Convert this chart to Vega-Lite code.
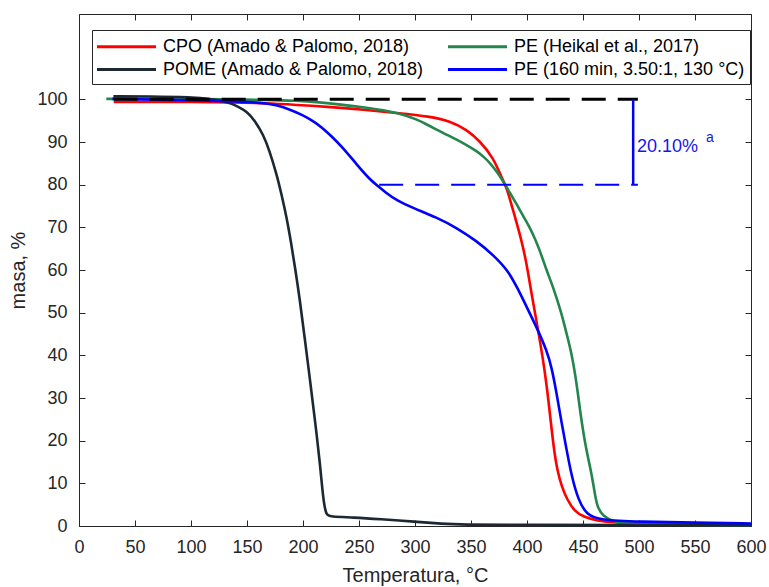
{
  "$schema": "https://vega.github.io/schema/vega-lite/v6.json",
  "width": 672,
  "height": 512,
  "autosize": "none",
  "padding": {"left": 79, "top": 14, "right": 18, "bottom": 61},
  "background": "white",
  "config": {
    "view": {"stroke": null},
    "font": "Liberation Sans",
    "axis": {
      "labelFont": "Liberation Sans",
      "titleFont": "Liberation Sans",
      "labelFontSize": 18,
      "titleFontSize": 20,
      "titleFontWeight": "normal",
      "labelColor": "#262626",
      "titleColor": "#262626",
      "domainColor": "#262626",
      "tickColor": "#262626",
      "tickSize": -6,
      "grid": false,
      "domainWidth": 1,
      "tickWidth": 1,
      "labelFlush": false,
      "labelOverlap": false
    }
  },
  "layer": [
    {
      "data": {
        "values": [
          {"series": "CPO (Amado & Palomo, 2018)", "T": 31, "m": 99.4},
          {"series": "CPO (Amado & Palomo, 2018)", "T": 60, "m": 99.4},
          {"series": "CPO (Amado & Palomo, 2018)", "T": 100, "m": 99.4},
          {"series": "CPO (Amado & Palomo, 2018)", "T": 134.8, "m": 99.3},
          {"series": "CPO (Amado & Palomo, 2018)", "T": 165, "m": 99.1},
          {"series": "CPO (Amado & Palomo, 2018)", "T": 194.3, "m": 98.7},
          {"series": "CPO (Amado & Palomo, 2018)", "T": 225, "m": 98.2},
          {"series": "CPO (Amado & Palomo, 2018)", "T": 253.8, "m": 97.6},
          {"series": "CPO (Amado & Palomo, 2018)", "T": 283.6, "m": 96.8},
          {"series": "CPO (Amado & Palomo, 2018)", "T": 313.4, "m": 96.0},
          {"series": "CPO (Amado & Palomo, 2018)", "T": 331.2, "m": 94.9},
          {"series": "CPO (Amado & Palomo, 2018)", "T": 346.2, "m": 92.9},
          {"series": "CPO (Amado & Palomo, 2018)", "T": 358, "m": 90.2},
          {"series": "CPO (Amado & Palomo, 2018)", "T": 370, "m": 86.3},
          {"series": "CPO (Amado & Palomo, 2018)", "T": 377.4, "m": 81.6},
          {"series": "CPO (Amado & Palomo, 2018)", "T": 381.9, "m": 79.3},
          {"series": "CPO (Amado & Palomo, 2018)", "T": 387.8, "m": 73.8},
          {"series": "CPO (Amado & Palomo, 2018)", "T": 395.3, "m": 66.8},
          {"series": "CPO (Amado & Palomo, 2018)", "T": 399.7, "m": 61.4},
          {"series": "CPO (Amado & Palomo, 2018)", "T": 404, "m": 54.5},
          {"series": "CPO (Amado & Palomo, 2018)", "T": 410, "m": 45.8},
          {"series": "CPO (Amado & Palomo, 2018)", "T": 414, "m": 39.5},
          {"series": "CPO (Amado & Palomo, 2018)", "T": 417.6, "m": 33.0},
          {"series": "CPO (Amado & Palomo, 2018)", "T": 421, "m": 25.0},
          {"series": "CPO (Amado & Palomo, 2018)", "T": 424.1, "m": 17.8},
          {"series": "CPO (Amado & Palomo, 2018)", "T": 427, "m": 13.1},
          {"series": "CPO (Amado & Palomo, 2018)", "T": 431, "m": 9.2},
          {"series": "CPO (Amado & Palomo, 2018)", "T": 436, "m": 6.1},
          {"series": "CPO (Amado & Palomo, 2018)", "T": 442.9, "m": 3.3},
          {"series": "CPO (Amado & Palomo, 2018)", "T": 450.3, "m": 2.2},
          {"series": "CPO (Amado & Palomo, 2018)", "T": 462, "m": 1.2},
          {"series": "CPO (Amado & Palomo, 2018)", "T": 480, "m": 0.8},
          {"series": "CPO (Amado & Palomo, 2018)", "T": 500, "m": 0.7},
          {"series": "CPO (Amado & Palomo, 2018)", "T": 550, "m": 0.5},
          {"series": "CPO (Amado & Palomo, 2018)", "T": 600, "m": 0.4},

          {"series": "PE (Heikal et al., 2017)", "T": 24.4, "m": 100.1},
          {"series": "PE (Heikal et al., 2017)", "T": 60, "m": 100.1},
          {"series": "PE (Heikal et al., 2017)", "T": 100, "m": 100.1},
          {"series": "PE (Heikal et al., 2017)", "T": 134.8, "m": 100.0},
          {"series": "PE (Heikal et al., 2017)", "T": 165, "m": 99.9},
          {"series": "PE (Heikal et al., 2017)", "T": 194.3, "m": 99.7},
          {"series": "PE (Heikal et al., 2017)", "T": 215, "m": 99.3},
          {"series": "PE (Heikal et al., 2017)", "T": 233, "m": 98.8},
          {"series": "PE (Heikal et al., 2017)", "T": 255, "m": 98.1},
          {"series": "PE (Heikal et al., 2017)", "T": 277.7, "m": 97.2},
          {"series": "PE (Heikal et al., 2017)", "T": 290, "m": 96.4},
          {"series": "PE (Heikal et al., 2017)", "T": 301.5, "m": 95.3},
          {"series": "PE (Heikal et al., 2017)", "T": 310, "m": 94.2},
          {"series": "PE (Heikal et al., 2017)", "T": 319.4, "m": 92.9},
          {"series": "PE (Heikal et al., 2017)", "T": 328, "m": 91.7},
          {"series": "PE (Heikal et al., 2017)", "T": 337.2, "m": 90.6},
          {"series": "PE (Heikal et al., 2017)", "T": 346, "m": 89.3},
          {"series": "PE (Heikal et al., 2017)", "T": 355, "m": 87.9},
          {"series": "PE (Heikal et al., 2017)", "T": 361, "m": 86.6},
          {"series": "PE (Heikal et al., 2017)", "T": 367, "m": 85.1},
          {"series": "PE (Heikal et al., 2017)", "T": 373, "m": 83.1},
          {"series": "PE (Heikal et al., 2017)", "T": 378.8, "m": 80.8},
          {"series": "PE (Heikal et al., 2017)", "T": 384.5, "m": 78.2},
          {"series": "PE (Heikal et al., 2017)", "T": 390.8, "m": 75.4},
          {"series": "PE (Heikal et al., 2017)", "T": 396.5, "m": 72.7},
          {"series": "PE (Heikal et al., 2017)", "T": 402.7, "m": 69.9},
          {"series": "PE (Heikal et al., 2017)", "T": 407, "m": 67.4},
          {"series": "PE (Heikal et al., 2017)", "T": 411.6, "m": 64.5},
          {"series": "PE (Heikal et al., 2017)", "T": 417.6, "m": 59.8},
          {"series": "PE (Heikal et al., 2017)", "T": 423.5, "m": 55.9},
          {"series": "PE (Heikal et al., 2017)", "T": 431, "m": 49.7},
          {"series": "PE (Heikal et al., 2017)", "T": 435.4, "m": 45.0},
          {"series": "PE (Heikal et al., 2017)", "T": 440, "m": 40.3},
          {"series": "PE (Heikal et al., 2017)", "T": 444.4, "m": 33.3},
          {"series": "PE (Heikal et al., 2017)", "T": 447.3, "m": 27.1},
          {"series": "PE (Heikal et al., 2017)", "T": 451.8, "m": 19.3},
          {"series": "PE (Heikal et al., 2017)", "T": 456.3, "m": 13.9},
          {"series": "PE (Heikal et al., 2017)", "T": 459.2, "m": 10.0},
          {"series": "PE (Heikal et al., 2017)", "T": 462.2, "m": 4.5},
          {"series": "PE (Heikal et al., 2017)", "T": 468.2, "m": 2.2},
          {"series": "PE (Heikal et al., 2017)", "T": 477, "m": 1.0},
          {"series": "PE (Heikal et al., 2017)", "T": 492, "m": 0.5},
          {"series": "PE (Heikal et al., 2017)", "T": 520, "m": 0.3},
          {"series": "PE (Heikal et al., 2017)", "T": 600, "m": 0.2},

          {"series": "POME (Amado & Palomo, 2018)", "T": 30.7, "m": 100.7},
          {"series": "POME (Amado & Palomo, 2018)", "T": 63, "m": 100.7},
          {"series": "POME (Amado & Palomo, 2018)", "T": 100, "m": 100.5},
          {"series": "POME (Amado & Palomo, 2018)", "T": 120, "m": 100.0},
          {"series": "POME (Amado & Palomo, 2018)", "T": 128, "m": 99.6},
          {"series": "POME (Amado & Palomo, 2018)", "T": 135, "m": 99.1},
          {"series": "POME (Amado & Palomo, 2018)", "T": 142, "m": 98.3},
          {"series": "POME (Amado & Palomo, 2018)", "T": 150, "m": 97.1},
          {"series": "POME (Amado & Palomo, 2018)", "T": 157, "m": 95.0},
          {"series": "POME (Amado & Palomo, 2018)", "T": 164.6, "m": 91.7},
          {"series": "POME (Amado & Palomo, 2018)", "T": 170, "m": 88.0},
          {"series": "POME (Amado & Palomo, 2018)", "T": 176.5, "m": 82.4},
          {"series": "POME (Amado & Palomo, 2018)", "T": 181, "m": 77.5},
          {"series": "POME (Amado & Palomo, 2018)", "T": 185.4, "m": 72.3},
          {"series": "POME (Amado & Palomo, 2018)", "T": 189.3, "m": 66.5},
          {"series": "POME (Amado & Palomo, 2018)", "T": 192.9, "m": 60.6},
          {"series": "POME (Amado & Palomo, 2018)", "T": 197.3, "m": 52.8},
          {"series": "POME (Amado & Palomo, 2018)", "T": 201.8, "m": 43.5},
          {"series": "POME (Amado & Palomo, 2018)", "T": 206.3, "m": 34.1},
          {"series": "POME (Amado & Palomo, 2018)", "T": 210.7, "m": 24.8},
          {"series": "POME (Amado & Palomo, 2018)", "T": 215.2, "m": 14.6},
          {"series": "POME (Amado & Palomo, 2018)", "T": 218.1, "m": 6.1},
          {"series": "POME (Amado & Palomo, 2018)", "T": 220.6, "m": 2.6},
          {"series": "POME (Amado & Palomo, 2018)", "T": 224, "m": 2.2},
          {"series": "POME (Amado & Palomo, 2018)", "T": 245, "m": 2.0},
          {"series": "POME (Amado & Palomo, 2018)", "T": 268.8, "m": 1.6},
          {"series": "POME (Amado & Palomo, 2018)", "T": 300, "m": 1.0},
          {"series": "POME (Amado & Palomo, 2018)", "T": 325, "m": 0.5},
          {"series": "POME (Amado & Palomo, 2018)", "T": 340, "m": 0.3},
          {"series": "POME (Amado & Palomo, 2018)", "T": 400, "m": 0.3},
          {"series": "POME (Amado & Palomo, 2018)", "T": 500, "m": 0.25},
          {"series": "POME (Amado & Palomo, 2018)", "T": 600, "m": 0.2},

          {"series": "PE (160 min, 3.50:1, 130 °C)", "T": 29.8, "m": 100.1},
          {"series": "PE (160 min, 3.50:1, 130 °C)", "T": 80, "m": 99.9},
          {"series": "PE (160 min, 3.50:1, 130 °C)", "T": 134.8, "m": 99.6},
          {"series": "PE (160 min, 3.50:1, 130 °C)", "T": 164.6, "m": 99.2},
          {"series": "PE (160 min, 3.50:1, 130 °C)", "T": 177, "m": 98.6},
          {"series": "PE (160 min, 3.50:1, 130 °C)", "T": 188.4, "m": 97.6},
          {"series": "PE (160 min, 3.50:1, 130 °C)", "T": 199, "m": 96.4},
          {"series": "PE (160 min, 3.50:1, 130 °C)", "T": 209.2, "m": 94.9},
          {"series": "PE (160 min, 3.50:1, 130 °C)", "T": 217, "m": 93.4},
          {"series": "PE (160 min, 3.50:1, 130 °C)", "T": 224.1, "m": 91.7},
          {"series": "PE (160 min, 3.50:1, 130 °C)", "T": 236, "m": 88.6},
          {"series": "PE (160 min, 3.50:1, 130 °C)", "T": 248, "m": 84.7},
          {"series": "PE (160 min, 3.50:1, 130 °C)", "T": 259.8, "m": 81.2},
          {"series": "PE (160 min, 3.50:1, 130 °C)", "T": 265.8, "m": 79.9},
          {"series": "PE (160 min, 3.50:1, 130 °C)", "T": 274, "m": 78.1},
          {"series": "PE (160 min, 3.50:1, 130 °C)", "T": 283.6, "m": 76.3},
          {"series": "PE (160 min, 3.50:1, 130 °C)", "T": 298.5, "m": 74.5},
          {"series": "PE (160 min, 3.50:1, 130 °C)", "T": 319.4, "m": 72.3},
          {"series": "PE (160 min, 3.50:1, 130 °C)", "T": 337.2, "m": 69.9},
          {"series": "PE (160 min, 3.50:1, 130 °C)", "T": 355, "m": 66.8},
          {"series": "PE (160 min, 3.50:1, 130 °C)", "T": 370, "m": 63.5},
          {"series": "PE (160 min, 3.50:1, 130 °C)", "T": 383.3, "m": 59.8},
          {"series": "PE (160 min, 3.50:1, 130 °C)", "T": 392, "m": 55.5},
          {"series": "PE (160 min, 3.50:1, 130 °C)", "T": 400, "m": 51.2},
          {"series": "PE (160 min, 3.50:1, 130 °C)", "T": 410, "m": 45.8},
          {"series": "PE (160 min, 3.50:1, 130 °C)", "T": 417.6, "m": 41.1},
          {"series": "PE (160 min, 3.50:1, 130 °C)", "T": 422, "m": 37.2},
          {"series": "PE (160 min, 3.50:1, 130 °C)", "T": 426.5, "m": 31.0},
          {"series": "PE (160 min, 3.50:1, 130 °C)", "T": 431, "m": 24.0},
          {"series": "PE (160 min, 3.50:1, 130 °C)", "T": 435.4, "m": 17.8},
          {"series": "PE (160 min, 3.50:1, 130 °C)", "T": 440, "m": 11.5},
          {"series": "PE (160 min, 3.50:1, 130 °C)", "T": 445.8, "m": 6.1},
          {"series": "PE (160 min, 3.50:1, 130 °C)", "T": 453.3, "m": 2.6},
          {"series": "PE (160 min, 3.50:1, 130 °C)", "T": 465, "m": 1.4},
          {"series": "PE (160 min, 3.50:1, 130 °C)", "T": 500, "m": 1.0},
          {"series": "PE (160 min, 3.50:1, 130 °C)", "T": 550, "m": 0.8},
          {"series": "PE (160 min, 3.50:1, 130 °C)", "T": 600, "m": 0.6}
        ]
      },
      "mark": {"type": "line", "strokeWidth": 2.6, "interpolate": "basis"},
      "encoding": {
        "x": {
          "field": "T", "type": "quantitative",
          "scale": {"domain": [0, 600], "nice": false, "zero": false},
          "axis": {"orient": "bottom", "title": "Temperatura, °C", "values": [0, 50, 100, 150, 200, 250, 300, 350, 400, 450, 500, 550, 600], "labelPadding": 18, "titlePadding": 9}
        },
        "y": {
          "field": "m", "type": "quantitative",
          "scale": {"domain": [0, 120], "nice": false, "zero": false},
          "axis": {"orient": "left", "title": "masa, %", "values": [0, 10, 20, 30, 40, 50, 60, 70, 80, 90, 100], "labelPadding": 18, "titlePadding": 8}
        },
        "color": {
          "field": "series", "type": "nominal",
          "sort": null,
          "scale": {
            "domain": ["CPO (Amado & Palomo, 2018)", "POME (Amado & Palomo, 2018)", "PE (Heikal et al., 2017)", "PE (160 min, 3.50:1, 130 °C)"],
            "range": ["#ff0000", "#1c2833", "#23864c", "#0000ff"]
          },
          "legend": {
            "orient": "none", "legendX": 13, "legendY": 16,
            "columns": 2, "title": null,
            "symbolType": "M-3,0H3", "symbolSize": 387, "symbolStrokeWidth": 3,
            "symbolOffset": 18, "labelOffset": 25,
            "labelFont": "Liberation Sans", "labelFontSize": 18, "labelColor": "#000000", "labelLimit": 0,
            "columnPadding": 17, "rowPadding": 2, "padding": 5,
            "strokeColor": "#262626", "fillColor": "white"
          }
        },
        "detail": {"field": "series"}
      }
    },
    {
      "data": {"values": [{"T": 31, "m": 100}, {"T": 499, "m": 100}]},
      "mark": {"type": "line", "color": "#000000", "strokeWidth": 3, "strokeDash": [24, 12]},
      "encoding": {
        "x": {"field": "T", "type": "quantitative", "axis": {"orient": "top", "labels": false, "title": null, "values": [0, 50, 100, 150, 200, 250, 300, 350, 400, 450, 500, 550, 600]}},
        "y": {"field": "m", "type": "quantitative", "axis": {"orient": "right", "labels": false, "title": null, "values": [0, 10, 20, 30, 40, 50, 60, 70, 80, 90, 100]}}
      }
    },
    {
      "data": {"values": [{"T": 268, "m": 80}, {"T": 499, "m": 80}]},
      "mark": {"type": "line", "color": "#0000ff", "strokeWidth": 2, "strokeDash": [24, 12]},
      "encoding": {
        "x": {"field": "T", "type": "quantitative", "axis": null},
        "y": {"field": "m", "type": "quantitative", "axis": null}
      }
    },
    {
      "data": {"values": [{"T": 494.8, "m": 80}, {"T": 494.8, "m": 100}]},
      "mark": {"type": "line", "color": "#0000ff", "strokeWidth": 2.5},
      "encoding": {
        "x": {"field": "T", "type": "quantitative", "axis": null},
        "y": {"field": "m", "type": "quantitative", "axis": null}
      }
    },
    {
      "data": {"values": [{"T": 498.2, "m": 87.6, "label": "20.10%"}]},
      "mark": {"type": "text", "align": "left", "baseline": "alphabetic", "font": "Liberation Sans", "fontSize": 18, "color": "#1515ee"},
      "encoding": {
        "x": {"field": "T", "type": "quantitative", "axis": null},
        "y": {"field": "m", "type": "quantitative", "axis": null},
        "text": {"field": "label"}
      }
    },
    {
      "data": {"values": [{"T": 559.8, "m": 89.9, "label": "a"}]},
      "mark": {"type": "text", "align": "left", "baseline": "alphabetic", "font": "Liberation Sans", "fontSize": 14, "color": "#1515ee"},
      "encoding": {
        "x": {"field": "T", "type": "quantitative", "axis": null},
        "y": {"field": "m", "type": "quantitative", "axis": null},
        "text": {"field": "label"}
      }
    }
  ],
  "resolve": {"axis": {"x": "independent", "y": "independent"}}
}
